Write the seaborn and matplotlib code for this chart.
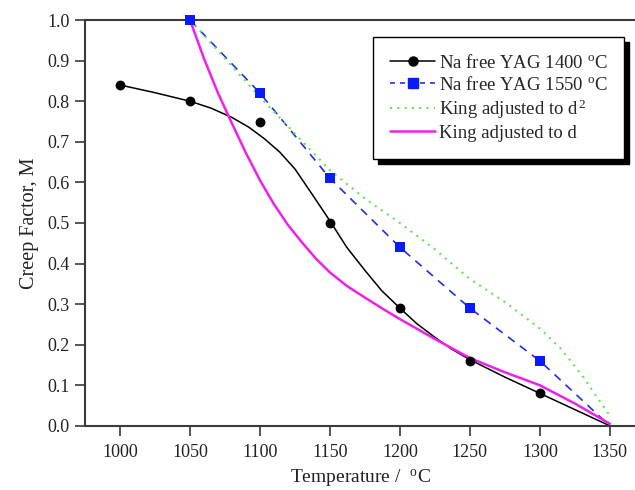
import matplotlib
matplotlib.use("Agg")
import matplotlib.pyplot as plt
from matplotlib.lines import Line2D
import seaborn as sns

# measured points
temp_pts = [1000, 1050, 1100, 1150, 1200, 1250, 1300]
m_1400 = [0.84, 0.80, 0.75, 0.50, 0.29, 0.16, 0.08]

temp_1550 = [1050, 1100, 1150, 1200, 1250, 1300, 1350]
m_1550 = [1.00, 0.82, 0.61, 0.44, 0.29, 0.16, 0.00]

# fitted curve through the 1400 C points
fit_temp = [1000, 1025, 1050, 1065, 1080, 1092, 1103, 1114, 1125, 1137, 1150,
            1162, 1175, 1187, 1200, 1212, 1225, 1237, 1250, 1275, 1300, 1325,
            1350]
fit_m = [0.840, 0.821, 0.800, 0.783, 0.760, 0.736, 0.708, 0.675, 0.633, 0.572,
         0.505, 0.440, 0.383, 0.333, 0.290, 0.252, 0.218, 0.189, 0.163, 0.120,
         0.080, 0.040, 0.000]

# King model curves
king_d2_temp = [1050, 1075, 1100, 1125, 1150, 1175, 1200, 1225, 1250, 1275,
                1300, 1315, 1330, 1350]
king_d2 = [1.00, 0.905, 0.81, 0.72, 0.63, 0.56, 0.50, 0.435, 0.362, 0.305,
           0.240, 0.190, 0.125, 0.025]

king_d_temp = [1050, 1060, 1070, 1080, 1090, 1100, 1110, 1120, 1130, 1140,
               1150, 1162, 1175, 1187, 1200, 1225, 1250, 1275, 1300, 1325,
               1350]
king_d = [1.00, 0.905, 0.820, 0.745, 0.672, 0.605, 0.546, 0.495, 0.452, 0.412,
          0.378, 0.345, 0.316, 0.290, 0.263, 0.214, 0.167, 0.132, 0.100, 0.055,
          0.005]

sns.set_style("ticks")
plt.rcParams["font.family"] = ["Liberation Serif", "DejaVu Serif"]
plt.rcParams["mathtext.fontset"] = "custom"
plt.rcParams["mathtext.rm"] = "Liberation Serif"
plt.rcParams["mathtext.it"] = "Liberation Serif:italic"

fig = plt.figure(figsize=(6.35, 4.9), dpi=100, facecolor="white")
ax = fig.add_axes([0.134, 0.131, 0.866, 0.828])

black = "black"
blue = "#1f2fe6"
green = "#5ee84a"
magenta = "#f020e8"

# black fit + points
sns.lineplot(x=fit_temp, y=fit_m, ax=ax, color=black, linewidth=1.1,
             sort=False, estimator=None)
sns.scatterplot(x=temp_pts, y=m_1400, ax=ax, color=black, marker="o",
                s=50, edgecolor=black, linewidth=0, zorder=5)

# blue dashed + squares (no square at the end point)
sns.lineplot(x=temp_1550, y=m_1550, ax=ax, color=blue, linewidth=1.2,
             linestyle=(0, (5, 4)), sort=False, estimator=None)
sns.scatterplot(x=temp_1550[:-1], y=m_1550[:-1], ax=ax, color="#0a1aff",
                marker="s", s=50, linewidth=0, zorder=5, clip_on=False)

# King curves
sns.lineplot(x=king_d2_temp, y=king_d2, ax=ax, color=green, linewidth=1.5,
             linestyle=(0, (1, 2.5)), sort=False, estimator=None)
sns.lineplot(x=king_d_temp, y=king_d, ax=ax, color=magenta, linewidth=1.8,
             sort=False, estimator=None)

ax.set_xlim(975, 1368)
ax.set_ylim(0, 1.0)
ax.set_xticks([1000, 1050, 1100, 1150, 1200, 1250, 1300, 1350])
ax.set_yticks([0.0, 0.1, 0.2, 0.3, 0.4, 0.5, 0.6, 0.7, 0.8, 0.9, 1.0])
ax.set_yticklabels([f"{v:.1f}" for v in ax.get_yticks()])

for side in ["left", "bottom", "top"]:
    ax.spines[side].set_color("#3a3a3a")
    ax.spines[side].set_linewidth(1.5)
ax.spines["right"].set_visible(False)
ax.tick_params(axis="both", direction="out", length=7, width=1.2,
               color="#3a3a3a", labelsize=13, labelcolor="#222222", pad=4)
ax.tick_params(axis="x", pad=6)

ax.set_xlabel("Temperature /  $^{\\mathrm{o}}$C", fontsize=14, color="#222222",
              labelpad=5)
ax.set_ylabel("Creep Factor, M", fontsize=14.5, color="#222222", labelpad=6)

handles = [
    Line2D([], [], color=black, linewidth=1.1, marker="o", markersize=6.5),
    Line2D([], [], color=blue, linewidth=1.2, linestyle=(0, (3, 3)),
           marker="s", markersize=6.5, markerfacecolor="#0a1aff",
           markeredgecolor="#0a1aff"),
    Line2D([], [], color=green, linewidth=1.5, linestyle=(0, (1, 2.5))),
    Line2D([], [], color=magenta, linewidth=1.8),
]
labels = [
    "Na free YAG 1400 $^{\\mathrm{o}}$C",
    "Na free YAG 1550 $^{\\mathrm{o}}$C",
    "King adjusted to d$^{\\,2}$",
    "King adjusted to d",
]
leg = ax.legend(handles, labels, loc="upper left", bbox_to_anchor=(0.524, 0.958),
                fontsize=13.5, frameon=True, fancybox=False, framealpha=1,
                edgecolor="black", borderpad=0.9, labelspacing=0.2,
                handlelength=2.4, handletextpad=0.2, borderaxespad=0,
                shadow={"ox": 3.6, "oy": -3.6, "color": "black", "alpha": 1})
leg.get_frame().set_linewidth(1.0)

fig.savefig("out.png", dpi=100, facecolor="white")
